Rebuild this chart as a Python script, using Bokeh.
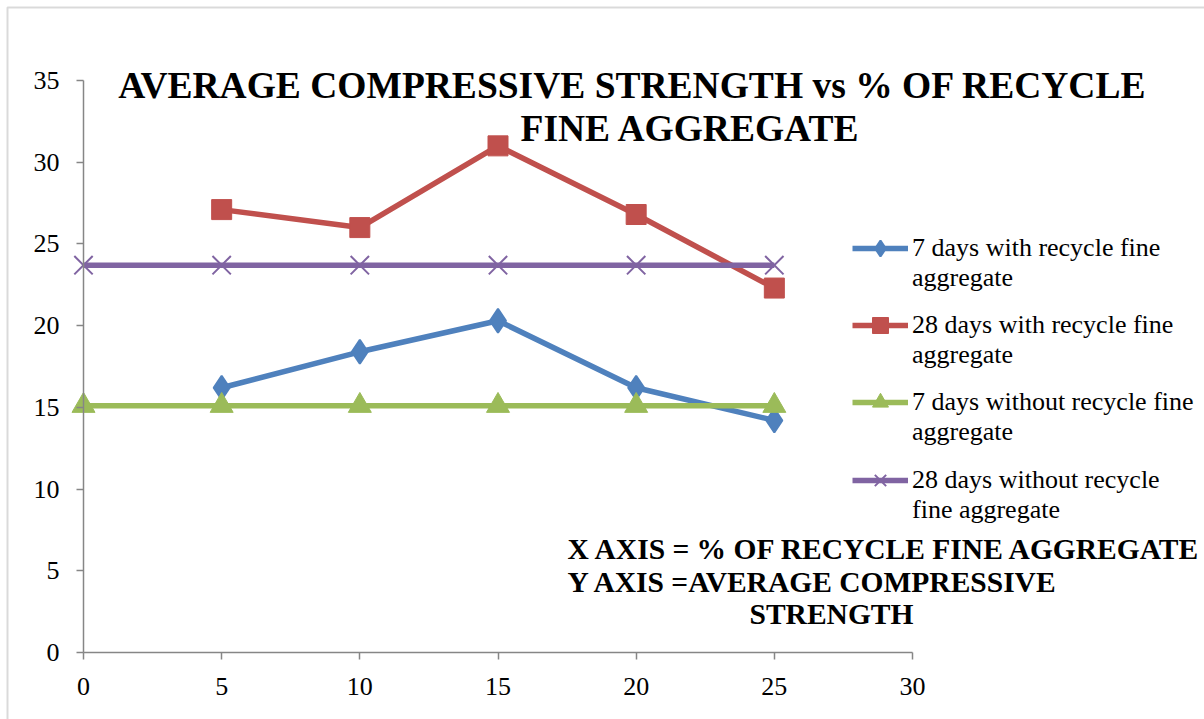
from bokeh.plotting import figure
from bokeh.models import (ColumnDataSource, Legend, LegendItem, Label, BoxAnnotation,
                          FixedTicker, Range1d)
from bokeh.embed import file_html
from bokeh.resources import INLINE

# % of recycled fine aggregate
pct_recycled = [5, 10, 15, 20, 25]
pct_all = [0, 5, 10, 15, 20, 25]

# average compressive strength (N/mm2)
days7_with = [16.2, 18.4, 20.3, 16.2, 14.2]
days28_with = [27.1, 26.0, 31.0, 26.8, 22.3]
days7_without = [15.1, 15.1, 15.1, 15.1, 15.1, 15.1]
days28_without = [23.7, 23.7, 23.7, 23.7, 23.7, 23.7]

series_names = [
    "7 days with recycle fine\naggregate",
    "28 days with recycle fine\naggregate",
    "7 days without recycle fine\naggregate",
    "28 days without recycle\nfine aggregate",
]

x_ticks = [0, 5, 10, 15, 20, 25, 30]
y_ticks = [0, 5, 10, 15, 20, 25, 30, 35]

BLUE, RED, GREEN, PURPLE = "#4F81BD", "#C0504D", "#9BBB59", "#8064A2"
AXIS_GREY = "#868686"
SERIF = "Liberation Serif"

W, H = 1204, 719
# plot-area edges on the canvas (pixels)
AREA_L, AREA_R, AREA_T, AREA_B = 83, 912, 80, 652
X0, X1 = 0, 30
Y0, Y1 = 0, 35
xpp = (X1 - X0) / (AREA_R - AREA_L)
ypp = (Y1 - Y0) / (AREA_B - AREA_T)

# the frame covers the whole canvas so the notes and legend are not clipped;
# the axes sit at x=0 / y=0 and are bounded to the plotted range
p = figure(width=W, height=H, output_backend="svg", toolbar_location=None,
           x_range=Range1d(X0 - AREA_L * xpp, X1 + (W - AREA_R) * xpp),
           y_range=Range1d(Y0 - (H - AREA_B) * ypp, Y1 + AREA_T * ypp),
           min_border=0)
p.grid.visible = False
p.outline_line_color = None
p.background_fill_color = "white"
p.border_fill_color = "white"

for ax, ticks, bnds in ((p.xaxis[0], x_ticks, (X0, X1)), (p.yaxis[0], y_ticks, (Y0, Y1))):
    ax.ticker = FixedTicker(ticks=ticks)
    ax.bounds = bnds
    ax.fixed_location = 0
    ax.minor_tick_line_color = None
    ax.axis_line_color = AXIS_GREY
    ax.axis_line_width = 1.5
    ax.major_tick_line_color = AXIS_GREY
    ax.major_tick_line_width = 1.5
    ax.major_tick_in = 0
    ax.major_tick_out = 7
    ax.major_label_text_font = SERIF
    ax.major_label_text_font_size = "26px"
    ax.major_label_text_color = "black"
p.xaxis.major_label_standoff = 18
p.yaxis.major_label_standoff = 17

src_with = ColumnDataSource(dict(x=pct_recycled, s7=days7_with, s28=days28_with))
src_without = ColumnDataSource(dict(x=pct_all, s7=days7_without, s28=days28_without))

LW = 5.5
l1 = p.line("x", "s7", source=src_with, line_color=BLUE, line_width=LW)
m1 = p.scatter("x", "s7", source=src_with, marker="diamond", size=24,
               fill_color=BLUE, line_color=BLUE, line_width=2)
l2 = p.line("x", "s28", source=src_with, line_color=RED, line_width=LW)
m2 = p.scatter("x", "s28", source=src_with, marker="square", size=20,
               fill_color=RED, line_color=RED)
l3 = p.line("x", "s7", source=src_without, line_color=GREEN, line_width=LW)
m3 = p.scatter("x", "s7", source=src_without, marker="triangle", size=23,
               fill_color=GREEN, line_color=GREEN)
l4 = p.line("x", "s28", source=src_without, line_color=PURPLE, line_width=LW)
m4 = p.scatter("x", "s28", source=src_without, marker="x", size=26,
               line_color=PURPLE, line_width=2)

# one legend per series, each stacked at its own row; a blank first line keeps
# the key glyph level with the first line of its two-line label
rows_y = [426, 349, 272, 194]
for name, rends, ry in zip(series_names, [[l1, m1], [l2, m2], [l3, m3], [l4, m4]], rows_y):
    p.add_layout(Legend(
        items=[LegendItem(label="\n" + name, renderers=rends)],
        location=(852, ry),
        glyph_width=56, glyph_height=40, label_standoff=4, spacing=0,
        padding=0, margin=0,
        border_line_alpha=0, background_fill_alpha=0,
        label_text_font=SERIF, label_text_font_size="26px", label_text_line_height=1.2,
        label_text_color="black",
    ), "center")

# chart title, two lines
title_style = dict(x_units="canvas", y_units="canvas", text_font=SERIF,
                   text_font_style="bold", text_font_size="37.5px", text_color="black",
                   text_align="center", text_baseline="middle")
p.add_layout(Label(x=632, y=85, text="AVERAGE COMPRESSIVE STRENGTH vs % OF RECYCLE",
                   **title_style))
p.add_layout(Label(x=690, y=128, text="FINE AGGREGATE", **title_style))

# axis description note
note_style = dict(x_units="canvas", y_units="canvas", text_font=SERIF,
                  text_font_style="bold", text_font_size="29.5px", text_color="black",
                  text_baseline="middle")
p.add_layout(Label(x=567, y=548, text="X AXIS = % OF RECYCLE FINE AGGREGATE",
                   text_align="left", **note_style))
p.add_layout(Label(x=567, y=581, text="Y AXIS =AVERAGE COMPRESSIVE",
                   text_align="left", **note_style))
p.add_layout(Label(x=831, y=613, text="STRENGTH", text_align="center", **note_style))

# chart area border (runs past the right and bottom edges)
p.add_layout(BoxAnnotation(left=7, right=1230, top=7, bottom=760,
                           left_units="canvas", right_units="canvas",
                           top_units="canvas", bottom_units="canvas",
                           fill_alpha=0, line_color=AXIS_GREY, line_width=2))

open("out.html", "w").write(file_html(p, INLINE))
